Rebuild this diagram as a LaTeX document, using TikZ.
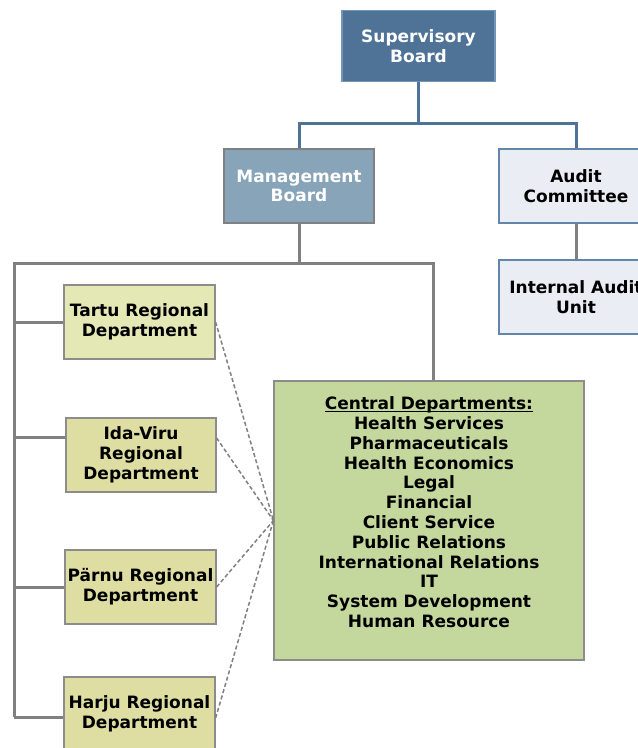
\documentclass[tikz,border=0pt]{standalone}
\usepackage{fontspec}
\setmainfont{DejaVu Sans}
\definecolor{supfill}{HTML}{4F7396}
\definecolor{supdraw}{HTML}{7396B8}
\definecolor{mgmtfill}{HTML}{87A4B8}
\definecolor{auditfill}{HTML}{EAEDF3}
\definecolor{auditdraw}{HTML}{6285AA}
\definecolor{tartufill}{HTML}{E4E8B5}
\definecolor{regfill}{HTML}{DEDEA2}
\definecolor{centralfill}{HTML}{C4D79C}
\definecolor{boxdraw}{HTML}{8C8C8C}
\definecolor{bluelink}{HTML}{4F7396}
\definecolor{graylink}{HTML}{808080}
\newcommand\headline[1]{{\setbox0\hbox{#1}\rlap{\rule[-2.2pt]{\wd0}{1.1pt}}\box0}}
\begin{document}
\begin{tikzpicture}[x=1pt,y=-1pt,
  every node/.style={font=\fontsize{17}{19.8}\selectfont\bfseries,align=center,inner sep=0pt},
  orgbox/.style={rectangle,line width=1.2pt,minimum width=150pt,minimum height=74pt},
  regbox/.style={orgbox,fill=regfill,draw=boxdraw},
  bluelinkline/.style={bluelink,line width=3pt},
  graylinkline/.style={graylink,line width=3pt},
  dashlink/.style={graylink,line width=1.5pt,dash pattern=on 4pt off 2.5pt}]
\useasboundingbox (0,0) rectangle (638,748);
\fill[white] (0,0) rectangle (638,748);

\node[orgbox,fill=supfill,draw=supdraw,text=white,minimum width=153pt,minimum height=71pt] (sup) at (418.5,46) {Supervisory\\Board};
\node[orgbox,fill=mgmtfill,draw=graylink,text=white] (mgmt) at (299,186) {Management\\Board};
\node[orgbox,fill=auditfill,draw=auditdraw,minimum width=154pt] (audit) at (576,186) {Audit\\Committee};
\node[orgbox,fill=auditfill,draw=auditdraw,minimum width=154pt] (internal) at (576,297) {Internal Audit\\Unit};

\node[orgbox,fill=tartufill,draw=boxdraw,minimum width=151pt] (tartu) at (139.5,322) {Tartu Regional\\Department};
\node[regbox] (ida) at (141,455) {Ida-Viru\\Regional\\Department};
\node[regbox,minimum width=151pt] (parnu) at (140.5,587) {Pärnu Regional\\Department};
\node[regbox,minimum width=151pt] (harju) at (139.5,714) {Harju Regional\\Department};

\node[rectangle,fill=centralfill,draw=boxdraw,line width=1.2pt,minimum width=310pt,minimum height=279pt] (central) at (429,520.5)
  {\headline{Central Departments:}\\Health Services\\Pharmaceuticals\\Health Economics\\Legal\\Financial\\Client Service\\Public Relations\\International Relations\\IT\\System Development\\Human Resource\\[-3pt]\mbox{}};

\coordinate (bluelevel) at (0,123);
\coordinate (supsplit) at (sup.south |- bluelevel);
\coordinate (mgmtsplit) at (299,263);
\coordinate (spinetop) at (14,263);
\coordinate (spinebottom) at (14,717);
\coordinate (centraltop) at (433,263);

\draw[bluelinkline] (sup.south) -- (supsplit);
\draw[bluelinkline] (mgmt.north) |- (supsplit) -| (audit.north);
\draw[graylinkline] (audit.south) -- (internal.north);
\draw[graylinkline] (mgmt.south) -- (mgmtsplit);
\draw[graylinkline] (spinebottom) -- (spinetop) -- (centraltop) -- ([xshift=4pt]central.north);
\draw[graylinkline] (spinetop |- tartu.west) -- (tartu.west);
\draw[graylinkline] (spinetop |- ida.west) ++(0,-18) -- ([yshift=18pt]ida.west);
\draw[graylinkline] (spinetop |- parnu.west) -- (parnu.west);
\draw[graylinkline] (spinebottom) -- ([yshift=-3pt]harju.west);

\draw[dashlink] (tartu.east) -- (central.west);
\draw[dashlink] ([yshift=17pt]ida.east) -- (central.west);
\draw[dashlink] (parnu.east) -- (central.west);
\draw[dashlink] ([yshift=-4pt]harju.east) -- (central.west);
\end{tikzpicture}
\end{document}
